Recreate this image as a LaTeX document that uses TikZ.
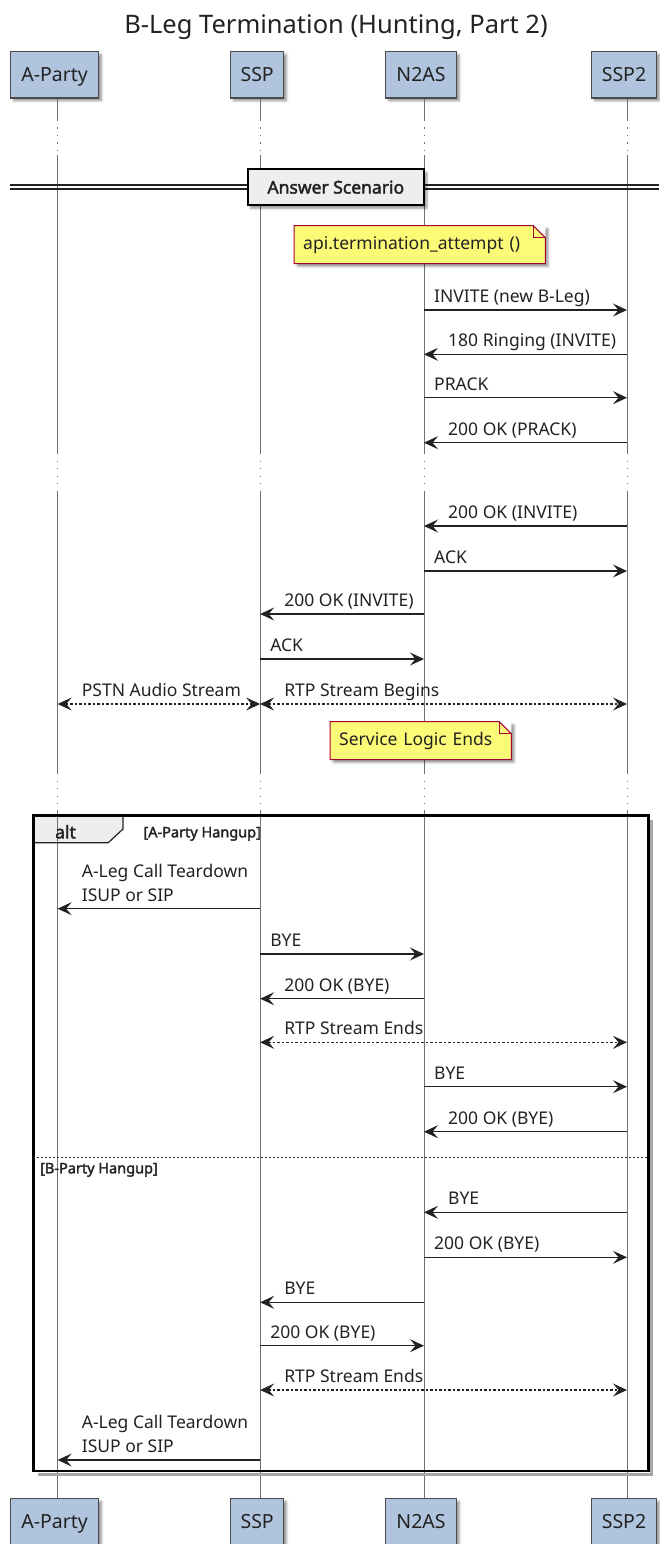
\documentclass[tikz,border=0pt]{standalone}
\usepackage{fontspec}
\setmainfont{Noto Sans}
\newfontfamily\bsans{Noto Sans}[FakeBold=2.2]
\usetikzlibrary{arrows.meta,shadows.blur,calc}
\pgfdeclarelayer{grp}
\pgfsetlayers{grp,main}
\definecolor{partfill}{HTML}{B0C4DE}
\definecolor{partline}{HTML}{4A4A4A}
\definecolor{notefill}{HTML}{FBFB77}
\definecolor{noteline}{HTML}{A80036}
\definecolor{grpfill}{HTML}{EEEEEE}
\definecolor{lifecol}{HTML}{707070}
\definecolor{ink}{HTML}{222222}
\newcommand\msgfont{\fontsize{17.5}{24}\selectfont}
\tikzset{
  shad/.style={blur shadow={shadow xshift=3pt, shadow yshift=-3pt, shadow blur steps=4, shadow opacity=40}},
  part/.style={draw=partline, fill=partfill, line width=1.3pt, minimum height=46.6pt, inner sep=0pt,
    text height=14.3pt, text depth=0pt, font=\fontsize{19.5}{23}\selectfont, text=ink, anchor=north west, shad},
  lifesolid/.style={draw=lifecol, line width=1pt},
  lifedots/.style={draw=lifecol, line width=1pt, dash pattern=on 1.2pt off 6.3pt},
  msg/.style={draw=ink, line width=1.2pt, -{Stealth[length=14pt,width=13pt,inset=5.5pt]}},
  stream/.style={draw=ink, line width=1.2pt, dash pattern=on 2.5pt off 2pt,
    {Stealth[length=14pt,width=13pt,inset=5.5pt]}-{Stealth[length=14pt,width=13pt,inset=5.5pt]}},
  lbl/.style={inner sep=0pt, font=\msgfont, text=ink, align=left, anchor=base west},
  notetext/.style={inner xsep=9pt, inner ysep=0pt, font=\msgfont, text=ink, align=left, anchor=north west,
    fill=notefill, shad},
  grplbl/.style={inner sep=0pt, font=\bsans\fontsize{14.5}{17}\selectfont, text=ink, anchor=base west},
}
\newcommand\msgR[5]{%
  \draw[msg] (#2 |- 0,#4) coordinate (#1s) -- (#3 |- 0,#4) coordinate (#1e);
  \node[lbl] (#1) at ([xshift=10pt, yshift=7.5pt]#1s) {#5};}
\newcommand\msgL[5]{%
  \draw[msg] (#2 |- 0,#4) coordinate (#1s) -- (#3 |- 0,#4) coordinate (#1e);
  \node[lbl] (#1) at ([xshift=24pt, yshift=7.5pt]#1e) {#5};}
\newcommand\msgB[5]{%
  \draw[stream] (#2 |- 0,#4) coordinate (#1s) -- (#3 |- 0,#4) coordinate (#1e);
  \node[lbl] (#1) at ([xshift=24pt, yshift=7.5pt]#1s) {#5};}
% folded corner over a filled note node
\newcommand\notefold[1]{%
  \fill[white] ([xshift=-12pt]#1.north east) -- (#1.north east) -- ([yshift=-12pt]#1.north east) -- cycle;
  \draw[draw=noteline, line width=1pt] (#1.north west) -- ([xshift=-12pt]#1.north east) -- ([yshift=-12pt]#1.north east)
     -- (#1.south east) -- (#1.south west) -- cycle;
  \draw[draw=noteline, line width=1pt] ([xshift=-12pt]#1.north east) -- ([xshift=-12pt,yshift=-12pt]#1.north east)
     -- ([yshift=-12pt]#1.north east);}
% lifeline from top node #1 to bottom node #2, x offset 3
\newcommand\lifeline[2]{%
  \coordinate (#1lt) at ($(#1.south)+(3,0)$);
  \coordinate (#1lb) at ($(#2.north)+(3,0)$);
  \draw[lifesolid] (#1lt) -- (#1lt |- 0,120);
  \draw[lifedots] (#1lt |- 0,120) -- (#1lt |- 0,155);
  \draw[lifesolid] (#1lt |- 0,155) -- (#1lt |- 0,453);
  \draw[lifedots] (#1lt |- 0,453) -- (#1lt |- 0,492);
  \draw[lifesolid] (#1lt |- 0,492) -- (#1lt |- 0,773);
  \draw[lifedots] (#1lt |- 0,773) -- (#1lt |- 0,810);
  \draw[lifesolid] (#1lt |- 0,810) -- (#1lb);}
\begin{document}
\begin{tikzpicture}[x=1pt,y=-1pt]
\useasboundingbox (0,0) rectangle (659,1544);
% title
\node[font=\fontsize{25.5}{30}\selectfont, text=ink, anchor=base, inner sep=0pt] (title) at (336,33.3)
  {B-Leg Termination (Hunting, Part 2)};
% participants
\node[part, minimum width=88pt] (ap) at (10,50.7) {A-Party};
\node[part, minimum width=53pt] (ssp) at (230,50.7) {SSP};
\node[part, minimum width=70.7pt] (n2as) at (385,50.7) {N2AS};
\node[part, minimum width=64.7pt] (ssp2) at (591,50.7) {SSP2};
\node[part, minimum width=88pt] (apb) at (10,1497.7) {A-Party};
\node[part, minimum width=53pt] (sspb) at (230,1497.7) {SSP};
\node[part, minimum width=70.7pt] (n2asb) at (385,1497.7) {N2AS};
\node[part, minimum width=64.7pt] (ssp2b) at (591,1497.7) {SSP2};
\coordinate (LA) at ($(ap.south)+(3,0)$);
\coordinate (LS) at ($(ssp.south)+(3,0)$);
\coordinate (LN) at ($(n2as.south)+(3,0)$);
\coordinate (L2) at ($(ssp2.south)+(3,0)$);
% lifelines
\lifeline{ap}{apb}
\lifeline{ssp}{sspb}
\lifeline{n2as}{n2asb}
\lifeline{ssp2}{ssp2b}
% divider
\draw[draw=ink, line width=1.2pt] (10,185) -- (659,185);
\draw[draw=ink, line width=1.2pt] (10,189) -- (659,189);
\node[anchor=north west, minimum width=176.4pt, minimum height=36pt, inner sep=0pt, fill=grpfill, draw=black,
  line width=2pt, font=\bsans\fontsize{17.5}{21}\selectfont, text height=12.5pt, text depth=0pt, text=ink, shad]
  (answer) at (246.6,168.3) {Answer Scenario};
% note 1
\node[notetext, text width=233pt, minimum height=37.6pt] (note1) at (294,225.7) {api.termination\_attempt ()};
\notefold{note1}
% messages
\msgR{m1}{LN}{L2}{310}{INVITE (new B-Leg)}
\msgL{m2}{L2}{LN}{354.3}{180 Ringing (INVITE)}
\msgR{m3}{LN}{L2}{397.7}{PRACK}
\msgL{m4}{L2}{LN}{442.7}{200 OK (PRACK)}
\msgL{m5}{L2}{LN}{526}{200 OK (INVITE)}
\msgR{m6}{LN}{L2}{571}{ACK}
\msgL{m7}{LN}{LS}{614}{200 OK (INVITE)}
\msgR{m8}{LS}{LN}{659}{ACK}
\msgB{m9}{LA}{LS}{704}{PSTN Audio Stream}
\msgB{m10}{LS}{L2}{704}{RTP Stream Begins}
% note 2
\node[notetext, text width=163pt, minimum height=37.6pt] (note2) at (330,721.7) {Service Logic Ends};
\notefold{note2}
% alt frame
\coordinate (altNW) at (33.3,815.7);
\coordinate (altSE) at (648.3,1471);
\begin{pgfonlayer}{grp}
\path[fill=grpfill] (altNW) -- (123,815.7) -- (123,829) -- (108.3,842.7) -- (33.3,842.7) -- cycle;
\end{pgfonlayer}
\draw[draw=black!35, line width=3pt] (38,1474.5) -- (651.8,1474.5) -- (651.8,820);
\draw[draw=ink, line width=1.2pt] (123,815.7) -- (123,829) -- (108.3,842.7) -- (33.3,842.7);
\draw[draw=black, line width=2.5pt] (altNW) rectangle (altSE);
\node[inner sep=0pt, font=\bsans\fontsize{17.5}{21}\selectfont, text=ink, anchor=base west] (altlbl) at (55,838.3) {alt};
\node[grplbl] (g1) at (143.3,837.3) {[A-Party Hangup]};
\draw[draw=ink, line width=1pt, dash pattern=on 2pt off 2pt] (33.3,1157.5) -- (648.3,1157.5);
\node[grplbl] (g2) at (40,1173.3) {[B-Party Hangup]};
% alt messages
\msgL{m11}{LS}{LA}{908.7}{A-Leg Call Teardown\\ISUP or SIP}
\msgR{m12}{LS}{LN}{954}{BYE}
\msgL{m13}{LN}{LS}{998.7}{200 OK (BYE)}
\msgB{m14}{LS}{L2}{1042.3}{RTP Stream Ends}
\msgR{m15}{LN}{L2}{1086.7}{BYE}
\msgL{m16}{L2}{LN}{1131.7}{200 OK (BYE)}
\msgL{m17}{L2}{LN}{1212.3}{BYE}
\msgR{m18}{LN}{L2}{1257.3}{200 OK (BYE)}
\msgL{m19}{LN}{LS}{1302.3}{BYE}
\msgR{m20}{LS}{LN}{1345.7}{200 OK (BYE)}
\msgB{m21}{LS}{L2}{1390}{RTP Stream Ends}
\msgL{m22}{LS}{LA}{1460}{A-Leg Call Teardown\\ISUP or SIP}
\end{tikzpicture}
\end{document}
